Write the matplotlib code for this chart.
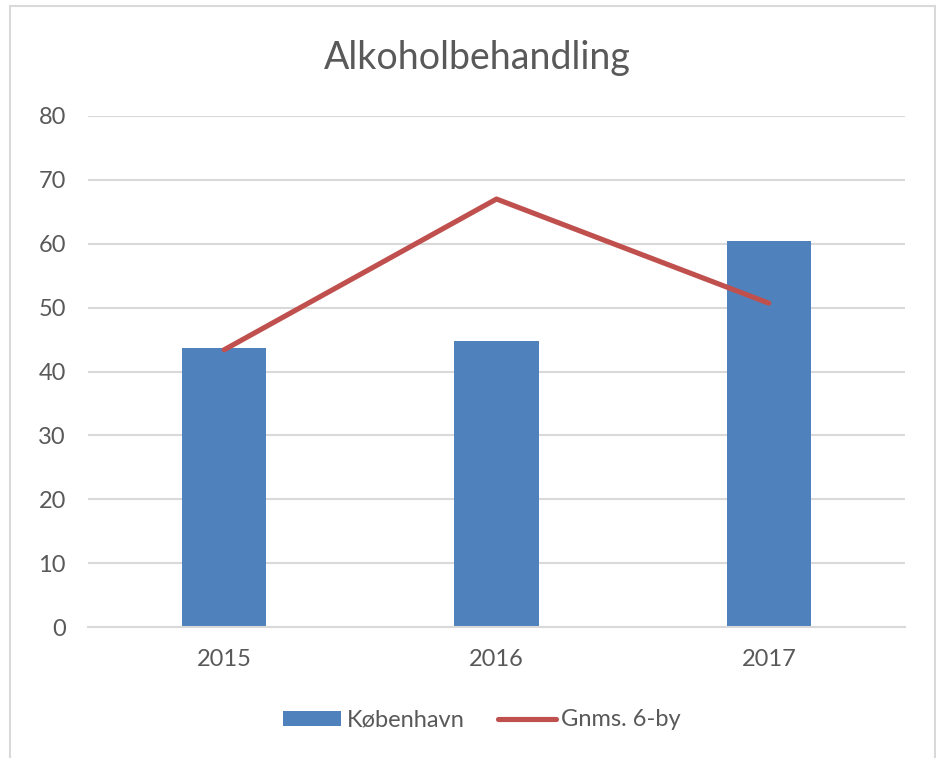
import matplotlib
matplotlib.use("Agg")
import matplotlib.pyplot as plt
from matplotlib.patches import Rectangle
from matplotlib.lines import Line2D
from matplotlib.patches import Patch

years = ["2015", "2016", "2017"]
kobenhavn = [43.7, 44.8, 60.4]
gnms_6by = [43.4, 67.0, 50.7]
yticks = [0, 10, 20, 30, 40, 50, 60, 70, 80]

plt.rcParams['font.family'] = ['Lato', 'DejaVu Sans']
text_color = '#595959'
bar_color = '#4F81BD'
line_color = '#C0504D'
grid_color = '#D9D9D9'

W, H = 937, 758
fig = plt.figure(figsize=(W/100, H/100), dpi=100)
fig.patch.set_facecolor('white')

# outer chart border
fig.patches.append(Rectangle((10/W, -0.01), (935-10)/W, 1 - 6/H + 0.01,
                             transform=fig.transFigure, fill=False,
                             edgecolor=grid_color, linewidth=1.5))

ax = fig.add_axes([88/W, 1 - 627/H, (905-88)/W, (627-116)/H])
x = list(range(len(years)))
ax.bar(x, kobenhavn, width=0.31, color=bar_color, zorder=2, label='København')
ax.plot(x, gnms_6by, color=line_color, linewidth=3.7, solid_capstyle='round',
        zorder=3, label='Gnms. 6-by')

ax.set_xlim(-0.5, 2.5)
ax.set_ylim(0, 80)
ax.set_yticks(yticks)
ax.set_xticks(x)
ax.set_xticklabels(years)
ax.yaxis.grid(True, color=grid_color, linewidth=1.5, zorder=0)
ax.set_axisbelow(True)
for s in ['top', 'right', 'left']:
    ax.spines[s].set_visible(False)
ax.spines['bottom'].set_color(grid_color)
ax.spines['bottom'].set_linewidth(1.5)
ax.tick_params(axis='both', length=0, colors=text_color, labelsize=17)
ax.tick_params(axis='y', pad=16)
ax.tick_params(axis='x', pad=16)

fig.text(477/W, 1 - 58/H, "Alkoholbehandling", ha='center', va='center',
         fontsize=27, color=text_color)

handles = [Patch(facecolor=bar_color, label='København'),
           Line2D([0], [0], color=line_color, linewidth=3.7, solid_capstyle='round',
                  label='Gnms. 6-by')]
leg = fig.legend(handles=handles, loc='center', bbox_to_anchor=(482/W, 1 - 720/H),
                 ncol=2, frameon=False, fontsize=17, handlelength=2.45,
                 handleheight=0.62, handletextpad=0.25, columnspacing=1.4,
                 labelcolor=text_color)

fig.savefig("out.png", dpi=100, facecolor='white')
